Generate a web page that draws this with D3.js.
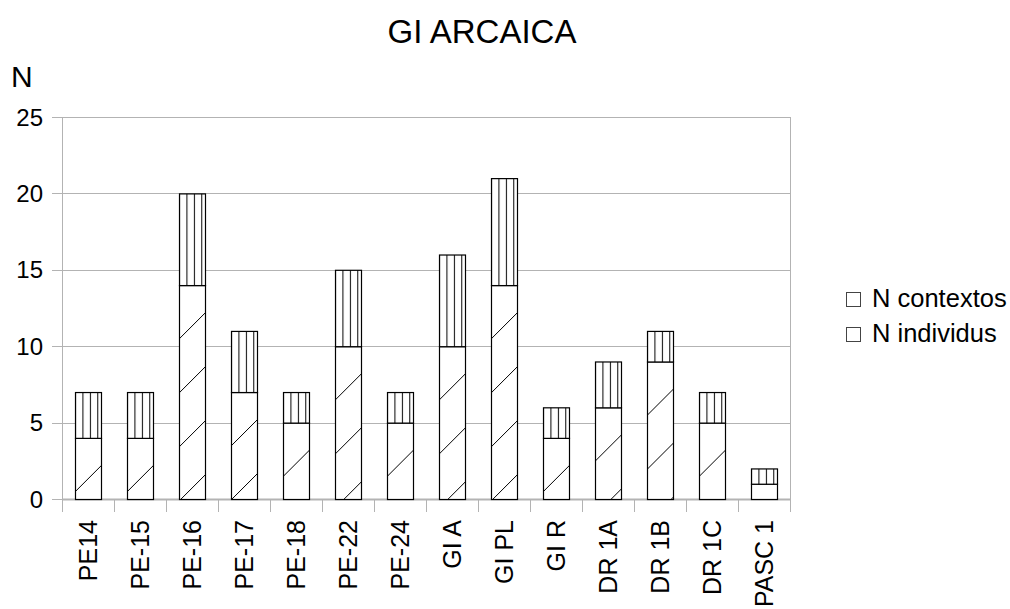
<!DOCTYPE html>
<html>
<head>
<meta charset="utf-8">
<script src="https://cdn.jsdelivr.net/npm/d3@7"></script>
<style>
  body { margin: 0; background: #fff; }
  svg { display: block; font-family: "Liberation Sans", Arial, sans-serif; }
</style>
</head>
<body>
<div id="viz"></div>
<script>
// Datos del gráfico
const categories = ['PE14', 'PE-15', 'PE-16', 'PE-17', 'PE-18', 'PE-22', 'PE-24', 'GI A', 'GI PL', 'GI R', 'DR 1A', 'DR 1B', 'DR 1C', 'PASC 1'];
const nIndividus = [4, 4, 14, 7, 5, 10, 5, 10, 14, 4, 6, 9, 5, 1];
const nContextos = [3, 3, 6, 4, 2, 5, 2, 6, 7, 2, 3, 2, 2, 1];
const yTicks = [0, 5, 10, 15, 20, 25];
const seriesNames = ['N contextos', 'N individus'];

const COLOR_GRID = '#b3b3b3';

let W = 1010, H = 609;
let margin = {top: 117, right: 220, bottom: 110, left: 62};
let width = 728, height = 382;

let svg = d3.select('#viz').append('svg')
    .attr('width', W)
    .attr('height', H);

let defs = svg.append('defs');

let g = svg.append('g')
    .attr('transform', 'translate(' + margin.left + ',' + margin.top + ')');

let x = d3.scaleBand()
    .domain(categories)
    .range([0, width])
    .paddingInner(0.5)
    .paddingOuter(0.25);

let y = d3.scaleLinear()
    .domain([0, 25])
    .range([height, 0]);

let data = categories.map(function(c, i) {
    return {cat: c, ind: nIndividus[i], ctx: nContextos[i], i: i};
});

//Rejilla horizontal
g.append('g')
    .selectAll('line')
    .data(yTicks)
    .enter()
    .append('line')
    .attr('x1', -10)
    .attr('x2', width)
    .attr('y1', function(d) { return Math.round(y(d)) + 0.5; })
    .attr('y2', function(d) { return Math.round(y(d)) + 0.5; })
    .attr('stroke', COLOR_GRID)
    .attr('stroke-width', 1);

//Bordes laterales
g.selectAll('.wall')
    .data([0, width])
    .enter()
    .append('line')
    .attr('x1', function(d) { return d + 0.5; })
    .attr('x2', function(d) { return d + 0.5; })
    .attr('y1', 0)
    .attr('y2', height)
    .attr('stroke', COLOR_GRID);

//Etiquetas eje Y
g.append('g')
    .selectAll('text')
    .data(yTicks)
    .enter()
    .append('text')
    .attr('x', -19)
    .attr('y', function(d) { return y(d); })
    .attr('dy', '0.36em')
    .attr('text-anchor', 'end')
    .style('font-size', '24px')
    .text(function(d) { return d; });

//Ticks eje X (entre categorías)
let step = x.step();
g.append('g')
    .selectAll('line')
    .data(d3.range(categories.length + 1))
    .enter()
    .append('line')
    .attr('x1', function(d) { return Math.round(d * step) + 0.5; })
    .attr('x2', function(d) { return Math.round(d * step) + 0.5; })
    .attr('y1', height)
    .attr('y2', height + 13)
    .attr('stroke', COLOR_GRID);

g.append('line')
    .attr('x1', 0)
    .attr('x2', width)
    .attr('y1', height + 0.5)
    .attr('y2', height + 0.5)
    .attr('stroke', COLOR_GRID)
    .attr('stroke-width', 2);

//Etiquetas eje X
g.append('g')
    .selectAll('text')
    .data(categories)
    .enter()
    .append('text')
    .attr('transform', function(d) {
        return 'translate(' + (x(d) + x.bandwidth() / 2) + ',' + (height + 21) + ') rotate(-90)';
    })
    .attr('dy', '0.36em')
    .attr('text-anchor', 'end')
    .style('font-size', '25px')
    .text(function(d) { return d; });

//Tramas por barra
let hatchP = 54;
let vStep = x.bandwidth() / 3.5;
data.forEach(function(d) {
    let left = x(d.cat);
    let pd = defs.append('pattern')
        .attr('id', 'diag-' + d.i)
        .attr('patternUnits', 'userSpaceOnUse')
        .attr('x', left)
        .attr('y', y(d.ind))
        .attr('width', hatchP)
        .attr('height', hatchP);
    pd.append('rect').attr('width', hatchP).attr('height', hatchP).attr('fill', '#fff');
    pd.append('line')
        .attr('x1', 0).attr('y1', hatchP)
        .attr('x2', hatchP).attr('y2', 0)
        .attr('stroke', '#000').attr('stroke-width', 1);

    let pv = defs.append('pattern')
        .attr('id', 'vert-' + d.i)
        .attr('patternUnits', 'userSpaceOnUse')
        .attr('x', left)
        .attr('y', 0)
        .attr('width', vStep)
        .attr('height', 10);
    pv.append('rect').attr('width', vStep).attr('height', 10).attr('fill', '#fff');
    pv.append('line')
        .attr('x1', 0.5).attr('y1', 0)
        .attr('x2', 0.5).attr('y2', 10)
        .attr('stroke', '#000').attr('stroke-width', 1);
});

//Barras apiladas
let bars = g.append('g');

bars.selectAll('.ind')
    .data(data)
    .enter()
    .append('rect')
    .attr('class', 'ind')
    .attr('x', function(d) { return x(d.cat) + 0.5; })
    .attr('y', function(d) { return y(d.ind) + 0.5; })
    .attr('width', x.bandwidth())
    .attr('height', function(d) { return y(0) - y(d.ind); })
    .attr('fill', function(d) { return 'url(#diag-' + d.i + ')'; })
    .attr('stroke', '#000')
    .attr('stroke-width', 1.2);

bars.selectAll('.ctx')
    .data(data)
    .enter()
    .append('rect')
    .attr('class', 'ctx')
    .attr('x', function(d) { return x(d.cat) + 0.5; })
    .attr('y', function(d) { return y(d.ind + d.ctx) + 0.5; })
    .attr('width', x.bandwidth())
    .attr('height', function(d) { return y(d.ind) - y(d.ind + d.ctx); })
    .attr('fill', function(d) { return 'url(#vert-' + d.i + ')'; })
    .attr('stroke', '#000')
    .attr('stroke-width', 1.2);

//Título y etiqueta eje
svg.append('text')
    .attr('x', 482)
    .attr('y', 43)
    .attr('text-anchor', 'middle')
    .style('font-size', '33px')
    .text('GI ARCAICA');

svg.append('text')
    .attr('x', 11)
    .attr('y', 87)
    .style('font-size', '30px')
    .text('N');

//Leyenda
let legend = svg.append('g')
    .attr('transform', 'translate(846,292)');

let li = legend.selectAll('g')
    .data(seriesNames)
    .enter()
    .append('g')
    .attr('transform', function(d, i) { return 'translate(0,' + (i * 35) + ')'; });

li.append('rect')
    .attr('x', 0.5)
    .attr('y', 0.5)
    .attr('width', 14)
    .attr('height', 14)
    .attr('fill', '#fff')
    .attr('stroke', '#444');

li.append('text')
    .attr('x', 26)
    .attr('y', 14.5)
    .style('font-size', '25.5px')
    .text(function(d) { return d; });
</script>
</body>
</html>
